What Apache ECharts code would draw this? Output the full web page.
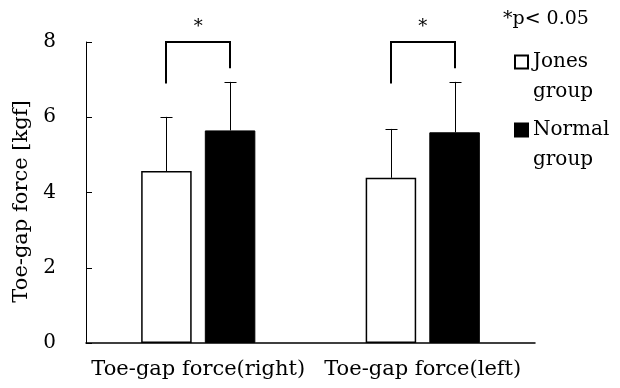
<!DOCTYPE html>
<html><head><meta charset="utf-8">
<script src="https://cdn.jsdelivr.net/npm/echarts@6/dist/echarts.min.js"></script>
<style>html,body{margin:0;padding:0;background:#fff}#c{width:620px;height:388px}</style>
</head><body><div id="c"></div>
<script>
const categories = ['Toe-gap force(right)', 'Toe-gap force(left)'];
const seriesNames = ['Jones group', 'Normal group'];
const jonesMean = [4.57, 4.39];
const jonesSD = [1.44, 1.30];
const normalMean = [5.65, 5.60];
const normalSD = [1.29, 1.34];
const yTicks = [0, 2, 4, 6, 8];
const bracketTop = [8.0, 8.0];
const bracketLeftEnd = [6.9, 6.9];
const bracketRightEnd = [7.3, 7.3];
const sigMarks = ['*', '*'];
const noteText = '*p< 0.05';

const FONT = 'DejaVu Serif';
const BAR_W = 0.225, BAR_GAP = 0.26;
function barOffset(api) {
  const band = api.size([1, 0])[0];
  return band * BAR_W * (1 + BAR_GAP) / 2;
}
function errData(mean, sd) { return mean.map((m, i) => [i, m, sd[i]]); }
function errRender(sign) {
  return function (params, api) {
    const i = api.value(0), m = api.value(1), s = api.value(2);
    const c = api.coord([i, m]), t = api.coord([i, m + s]);
    const x = Math.round(c[0] + sign * barOffset(api)) + 0.5;
    const st = { stroke: '#000', lineWidth: 1 };
    return { type: 'group', children: [
      { type: 'line', shape: { x1: x, y1: c[1], x2: x, y2: t[1] }, style: st },
      { type: 'line', shape: { x1: x - 6, y1: Math.round(t[1]) + 0.5, x2: x + 6, y2: Math.round(t[1]) + 0.5 }, style: st }
    ]};
  };
}
const bracketData = categories.map((c, i) => [i, bracketTop[i], bracketLeftEnd[i], bracketRightEnd[i]]);

const chart = echarts.init(document.getElementById('c'), null, { renderer: 'canvas' });
chart.setOption({
  animation: false,
  backgroundColor: '#fff',
  textStyle: { fontFamily: FONT, color: '#000' },
  title: { text: noteText, left: 503, top: 10, padding: 0,
    textStyle: { fontFamily: FONT, fontSize: 19, fontWeight: 'normal', color: '#000' } },
  legend: {
    orient: 'vertical', left: 514, top: 17, padding: 0, itemGap: -22,
    itemWidth: 13, itemHeight: 13, icon: 'rect',
    data: seriesNames,
    formatter: n => '\n' + n.replace(' ', '\n'),
    textStyle: { fontFamily: FONT, fontSize: 20, color: '#000', lineHeight: 30 }
  },
  grid: { left: 86, right: 85, top: 42, bottom: 45, containLabel: false },
  xAxis: {
    type: 'category', data: categories,
    axisLine: { show: true, lineStyle: { color: '#000', width: 1.5 } },
    axisTick: { show: false },
    axisLabel: { color: '#000', fontFamily: FONT, fontSize: 21, margin: 16, interval: 0 },
    splitLine: { show: false }
  },
  yAxis: {
    type: 'value', min: yTicks[0], max: yTicks[yTicks.length - 1], interval: 2,
    name: 'Toe-gap force [kgf]', nameLocation: 'middle', nameGap: 53,
    nameTextStyle: { color: '#000', fontFamily: FONT, fontSize: 21, padding: [0, 18, 0, 0] },
    axisLine: { show: true, lineStyle: { color: '#000', width: 1 } },
    axisTick: { show: true, inside: true, length: 6, lineStyle: { color: '#000' } },
    axisLabel: { color: '#000', fontFamily: FONT, fontSize: 20, margin: 30 },
    splitLine: { show: false }
  },
  series: [
    { name: seriesNames[0], type: 'bar', data: jonesMean, barWidth: (BAR_W * 100) + '%', barGap: (BAR_GAP * 100) + '%',
      itemStyle: { color: '#fff', borderColor: '#000', borderWidth: 1.5 } },
    { name: seriesNames[1], type: 'bar', data: normalMean, barWidth: (BAR_W * 100) + '%', barGap: (BAR_GAP * 100) + '%',
      itemStyle: { color: '#000', borderColor: '#000', borderWidth: 1 } },
    { type: 'custom', data: errData(jonesMean, jonesSD), renderItem: errRender(-1), z: 5, silent: true },
    { type: 'custom', data: errData(normalMean, normalSD), renderItem: errRender(1), z: 5, silent: true },
    { type: 'custom', data: bracketData, z: 5, silent: true,
      renderItem: function (params, api) {
        const i = api.value(0);
        const off = barOffset(api);
        const top = api.coord([i, api.value(1)]);
        const lb = api.coord([i, api.value(2)]);
        const rb = api.coord([i, api.value(3)]);
        const xl = Math.round(top[0] - off), xr = Math.round(top[0] + off);
        const y = Math.round(top[1]);
        return { type: 'group', children: [
          { type: 'polyline', shape: { points: [[xl, lb[1]], [xl, y], [xr, y], [xr, rb[1]]] },
            style: { stroke: '#000', lineWidth: 2, fill: null } },
          { type: 'text', x: top[0], y: y - 6,
            style: { text: sigMarks[params.dataIndex], fontFamily: FONT, fontSize: 18, fill: '#000', align: 'center', verticalAlign: 'bottom' } }
        ]};
      } }
  ]
});
</script></body></html>
